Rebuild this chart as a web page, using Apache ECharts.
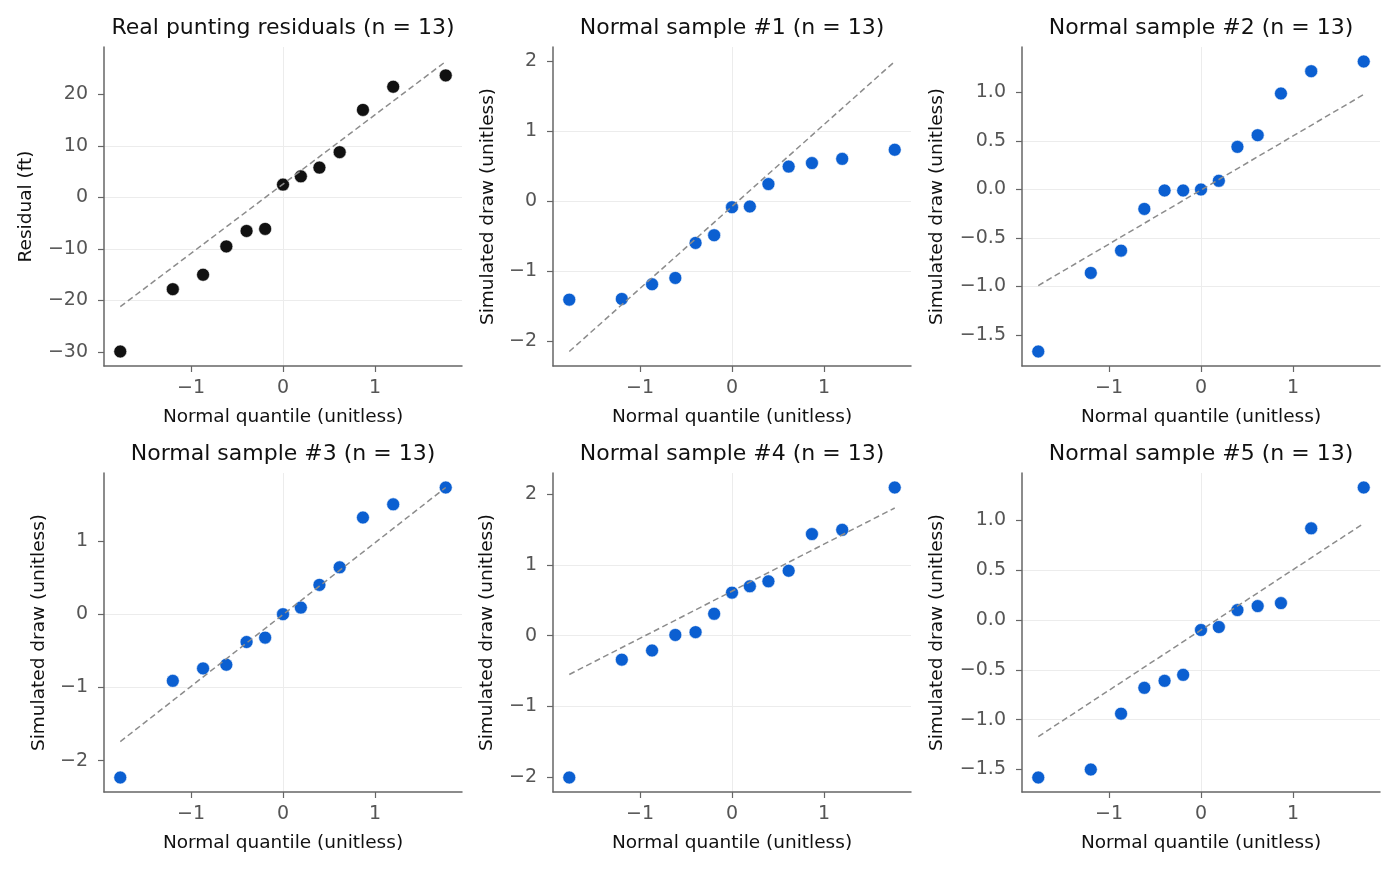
<!DOCTYPE html>
<html>
<head>
<meta charset="utf-8">
<title>QQ plots</title>
<script src="https://cdn.jsdelivr.net/npm/echarts@6/dist/echarts.min.js"></script>
<style>
  html, body { margin: 0; padding: 0; background: #fff; }
  #main { width: 1398px; height: 873px; }
</style>
</head>
<body>
<div id="main"></div>
<script>
// normal quantiles for n = 13, (i - 0.5) / n
var quantiles = [-1.769, -1.198, -0.869, -0.616, -0.396, -0.194, 0, 0.194, 0.396, 0.616, 0.869, 1.198, 1.769];

var residuals = [-29.9, -17.8, -15.0, -9.5, -6.5, -6.1, 2.5, 4.1, 5.8, 8.8, 17.0, 21.5, 23.7];
var sample1 = [-1.41, -1.40, -1.19, -1.10, -0.60, -0.49, -0.09, -0.08, 0.24, 0.49, 0.54, 0.60, 0.73];
var sample2 = [-1.67, -0.86, -0.63, -0.20, -0.01, -0.01, 0.00, 0.09, 0.44, 0.56, 0.99, 1.22, 1.32];
var sample3 = [-2.23, -0.91, -0.74, -0.69, -0.38, -0.32, 0.00, 0.09, 0.40, 0.64, 1.32, 1.50, 1.73];
var sample4 = [-2.01, -0.34, -0.21, 0.01, 0.05, 0.31, 0.61, 0.70, 0.77, 0.92, 1.44, 1.50, 2.10];
var sample5 = [-1.58, -1.50, -0.94, -0.68, -0.61, -0.55, -0.10, -0.07, 0.10, 0.14, 0.17, 0.92, 1.33];

// reference line ends (at first and last quantile)
var refResiduals = [-21.2, 26.4];
var ref1 = [-2.15, 1.99];
var ref2 = [-0.99, 0.98];
var ref3 = [-1.74, 1.73];
var ref4 = [-0.55, 1.81];
var ref5 = [-1.17, 0.97];

var titles = [
    "Real punting residuals (n = 13)",
    "Normal sample #1 (n = 13)",
    "Normal sample #2 (n = 13)",
    "Normal sample #3 (n = 13)",
    "Normal sample #4 (n = 13)",
    "Normal sample #5 (n = 13)"
];
var yNames = ["Residual (ft)", "Simulated draw (unitless)", "Simulated draw (unitless)",
    "Simulated draw (unitless)", "Simulated draw (unitless)", "Simulated draw (unitless)"];
var xName = "Normal quantile (unitless)";

// tick labels
var xTicks = [-1, 0, 1];
var yTicks1 = [-30, -20, -10, 0, 10, 20];
var yTicks2 = [-2, -1, 0, 1, 2];
var yTicks3 = [-1.5, -1.0, -0.5, 0.0, 0.5, 1.0];
var yTicks4 = [-2, -1, 0, 1];
var yTicks5 = [-2, -1, 0, 1, 2];
var yTicks6 = [-1.5, -1.0, -0.5, 0.0, 0.5, 1.0];

var panels = [
    { y: residuals, ref: refResiduals, ticks: yTicks1, dec: 0, color: "#111111", gap: 68 },
    { y: sample1, ref: ref1, ticks: yTicks2, dec: 0, color: "#0b5fd1", gap: 55 },
    { y: sample2, ref: ref2, ticks: yTicks3, dec: 1, color: "#0b5fd1", gap: 75 },
    { y: sample3, ref: ref3, ticks: yTicks4, dec: 0, color: "#0b5fd1", gap: 55 },
    { y: sample4, ref: ref4, ticks: yTicks5, dec: 0, color: "#0b5fd1", gap: 56 },
    { y: sample5, ref: ref5, ticks: yTicks6, dec: 1, color: "#0b5fd1", gap: 75 }
];

var colLeft = [104, 553, 1022];
var rowTop = [47, 473];
var plotW = 358, plotH = 319;
var FONT = "DejaVu Sans";

function fmt(dec) {
    return function (v) { return Number(v).toFixed(dec).replace("-", "\u2212"); };
}

// matplotlib-like 5% margins
function padded(arr) {
    var lo = Math.min.apply(null, arr), hi = Math.max.apply(null, arr);
    var p = (hi - lo) * 0.05;
    return [lo - p, hi + p];
}

var xr = padded(quantiles);
var grid = [], xAxis = [], yAxis = [], series = [], title = [];

panels.forEach(function (pn, i) {
    var c = i % 3, r = Math.floor(i / 3);
    grid.push({ left: colLeft[c], top: rowTop[r], width: plotW, height: plotH, containLabel: false });
    title.push({
        text: titles[i], left: colLeft[c] + plotW / 2, top: rowTop[r] - 30, textAlign: "center", padding: 0,
        textStyle: { fontFamily: FONT, fontSize: 22, fontWeight: "normal", color: "#111" }
    });
    var yr = padded(pn.y.concat(pn.ref));
    var step = pn.ticks[1] - pn.ticks[0];
    xAxis.push({
        type: "value", gridIndex: i, min: xr[0], max: xr[1], minInterval: 1, maxInterval: 1,
        name: xName, nameLocation: "middle", nameGap: 42,
        nameTextStyle: { fontFamily: FONT, fontSize: 18.5, color: "#111" },
        axisLine: { show: true, onZero: false, lineStyle: { color: "#666", width: 1.5 } },
        axisTick: { show: true, length: 6, customValues: xTicks, lineStyle: { color: "#666", width: 1.2 } },
        axisLabel: { customValues: xTicks, formatter: fmt(0), margin: 13, fontFamily: FONT, fontSize: 19, color: "#555" },
        splitLine: { show: true, showMinLine: false, showMaxLine: false, lineStyle: { color: "#ececec", width: 1 } }
    });
    yAxis.push({
        type: "value", gridIndex: i, min: yr[0], max: yr[1], minInterval: step, maxInterval: step,
        name: yNames[i], nameLocation: "middle", nameGap: pn.gap, nameRotate: 90,
        nameTextStyle: { fontFamily: FONT, fontSize: 18.5, color: "#111" },
        axisLine: { show: true, onZero: false, lineStyle: { color: "#666", width: 1.5 } },
        axisTick: { show: true, length: 6, customValues: pn.ticks, lineStyle: { color: "#666", width: 1.2 } },
        axisLabel: { customValues: pn.ticks, formatter: fmt(pn.dec), margin: 16, fontFamily: FONT, fontSize: 19, color: "#555" },
        splitLine: { show: true, showMinLine: false, showMaxLine: false, lineStyle: { color: "#ececec", width: 1 } }
    });
    series.push({
        type: "scatter", xAxisIndex: i, yAxisIndex: i, symbolSize: 13,
        itemStyle: { color: pn.color, opacity: 1, borderColor: "#fff", borderWidth: 0.6 },
        data: quantiles.map(function (q, k) { return [q, pn.y[k]]; }),
        z: 2
    });
    series.push({
        type: "line", xAxisIndex: i, yAxisIndex: i, symbol: "none", silent: true,
        lineStyle: { color: "#8c8c8c", width: 1.5, type: [6, 3.5] },
        data: [[quantiles[0], pn.ref[0]], [quantiles[quantiles.length - 1], pn.ref[1]]],
        z: 3
    });
});

var myChart = echarts.init(document.getElementById("main"), null, { renderer: "canvas" });
myChart.setOption({
    animation: false,
    backgroundColor: "#fff",
    title: title,
    grid: grid,
    xAxis: xAxis,
    yAxis: yAxis,
    series: series
});
</script>
</body>
</html>
